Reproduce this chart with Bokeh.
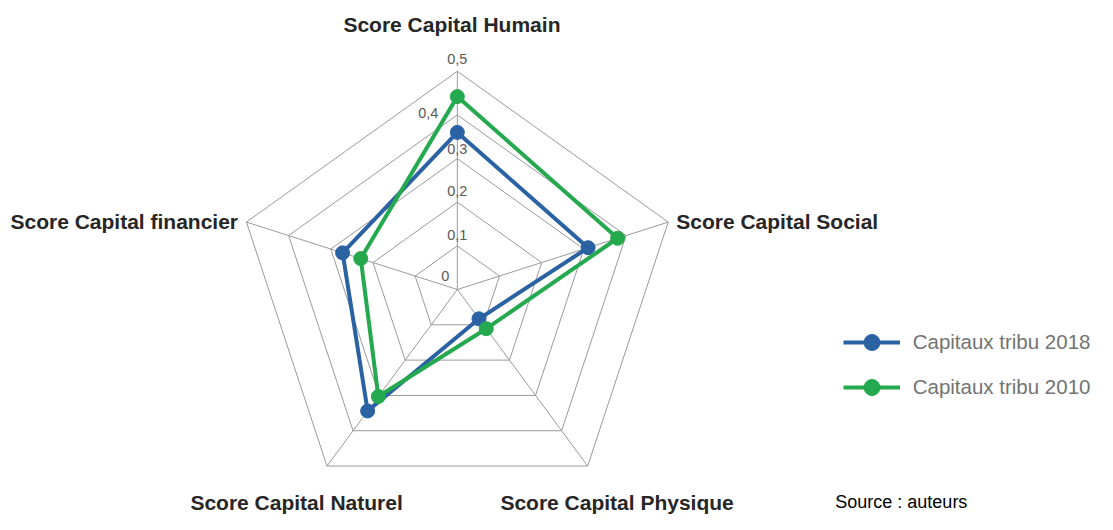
import math
from bokeh.plotting import figure
from bokeh.models import Range1d, ColumnDataSource, Legend, LegendItem, Label
from bokeh.core.properties import value
from bokeh.embed import file_html
from bokeh.resources import INLINE

# ---- data ----
categories = ["Score Capital Humain", "Score Capital Social", "Score Capital Physique",
              "Score Capital Naturel", "Score Capital financier"]
series_2018 = [0.36, 0.31, 0.083, 0.344, 0.272]
series_2010 = [0.442, 0.38, 0.111, 0.303, 0.229]
series_names = ["Capitaux tribu 2018", "Capitaux tribu 2010"]
ticks = [0, 0.1, 0.2, 0.3, 0.4, 0.5]
tick_labels = ["0", "0,1", "0,2", "0,3", "0,4", "0,5"]
source_text = "Source : auteurs"

# ---- styling / layout ----
W, H = 1097, 514
KX, KY = W / 1113.0, H / 530.0          # reference px -> figure px
SX, SY = 450.0 * KX, 450.0 * KY         # px per unit
CX, CY = 463.5 * KX, 298.0 * KY         # centre in figure px
BLUE = "#2a62a3"
GREEN = "#24a94e"
GRID = "#9a9a9a"
FONT = "Liberation Sans"

n = len(categories)
angles = [2 * math.pi * k / n for k in range(n)]

def to_xy(vals):
    xs = [v * math.sin(a) for v, a in zip(vals, angles)]
    ys = [v * math.cos(a) for v, a in zip(vals, angles)]
    return xs + xs[:1], ys + ys[:1]

p = figure(width=W, height=H, output_backend="svg", toolbar_location=None,
           x_range=Range1d(-CX / SX, (W - CX) / SX),
           y_range=Range1d(-(H - CY) / SY, CY / SY),
           min_border=0, outline_line_color=None)
p.xaxis.visible = False
p.yaxis.visible = False
p.xgrid.visible = False
p.ygrid.visible = False
p.background_fill_color = "white"
p.border_fill_color = "white"

rmax = max(ticks)
gx, gy = [], []
for t in ticks[1:]:
    xs, ys = to_xy([t] * n)
    gx.append(xs); gy.append(ys)
for a in angles:
    gx.append([0, rmax * math.sin(a)]); gy.append([0, rmax * math.cos(a)])
p.multi_line(gx, gy, line_color=GRID, line_width=1)

renderers = []
for vals, col in [(series_2018, BLUE), (series_2010, GREEN)]:
    xs, ys = to_xy(vals)
    l = p.line(xs, ys, line_color=col, line_width=4, line_join="round")
    s = p.scatter(xs[:-1], ys[:-1], size=14, fill_color=col, line_color=col)
    renderers.append((l, s))

tick_src = ColumnDataSource(dict(
    x=[0.0] * len(ticks), y=ticks, text=tick_labels,
    xo=[-12, 0, 0, 0, -29, 0], yo=[-14, -10.5, -11, -9.5, -2, -12]))
p.text("x", "y", text="text", source=tick_src, x_offset="xo", y_offset="yo",
       text_font=value(FONT), text_font_size="14.5px", text_color="#595959",
       text_align="center", text_baseline="middle")

vx, vy = to_xy([rmax] * n)
cat_src = ColumnDataSource(dict(
    x=vx[:-1], y=vy[:-1], text=categories,
    xo=[-5.4, 8, 29.4, -30.4, -8.4], yo=[-46.6, -1, 36.9, 36.9, -1],
    al=["center", "left", "center", "center", "right"]))
p.text("x", "y", text="text", source=cat_src, x_offset="xo", y_offset="yo",
       text_align="al", text_baseline="middle",
       text_font=value(FONT), text_font_size="21px", text_font_style="bold",
       text_color="#262626")

legend = Legend(items=[LegendItem(label=series_names[i], renderers=list(renderers[i]))
                       for i in range(2)],
                location=(842.7, 106.7), orientation="vertical",
                glyph_width=57, glyph_height=40, label_height=40, spacing=5,
                label_standoff=13, padding=0, margin=0,
                border_line_color=None, background_fill_alpha=0,
                label_text_font=FONT, label_text_font_size="20.5px",
                label_text_color="#737373")
p.add_layout(legend, "center")

p.add_layout(Label(x=834.8, y=12.6, x_units="screen", y_units="screen", text=source_text,
                   text_font=FONT, text_font_size="18px", text_color="#000000",
                   text_baseline="middle"))

open("out.html", "w").write(file_html(p, INLINE))
